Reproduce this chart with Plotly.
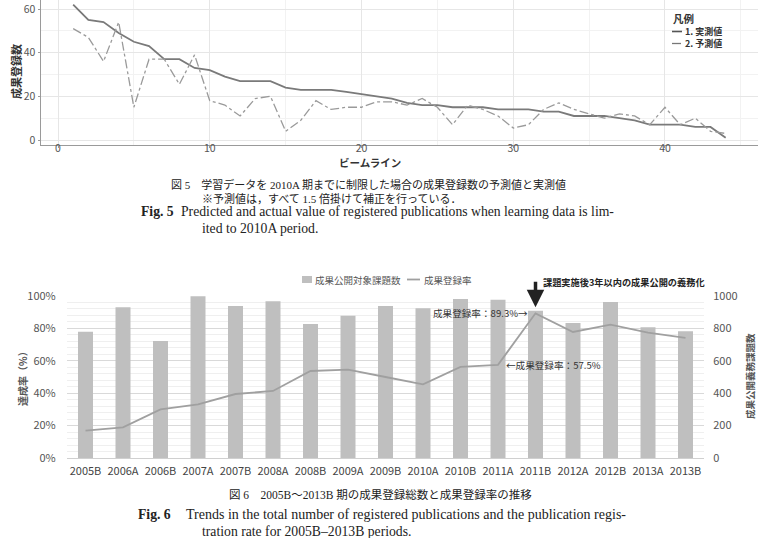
import plotly.graph_objects as go

# ---------------- data: Fig. 5 ----------------
beamline = list(range(1, 45))
actual = [62, 55, 54, 49, 45, 43, 37, 37, 33, 32, 29, 27, 27, 27, 24, 23, 23, 23, 22, 21,
          20, 19, 17, 16, 16, 15, 15, 15, 14, 14, 14, 13, 13, 11, 11, 11, 10, 9, 7, 7,
          7, 6, 6, 1]
predicted = [51, 47, 36, 54, 15, 37, 37, 25.5, 39, 18, 16, 11, 19, 20, 4, 9, 18, 14, 15, 15,
             17.5, 17.5, 16, 19, 15, 7, 16, 14, 11, 5.5, 7, 14, 17, 14, 12, 10, 12, 11, 7, 15,
             7, 10, 4, 3]
series_names = ["1. 実測値", "2. 予測値"]
x_ticks5 = [0, 10, 20, 30, 40]
y_ticks5 = [0, 20, 40, 60]

# ---------------- data: Fig. 6 ----------------
periods = ["2005B", "2006A", "2006B", "2007A", "2007B", "2008A", "2008B", "2009A", "2009B",
           "2010A", "2010B", "2011A", "2011B", "2012A", "2012B", "2013A", "2013B"]
target_counts = [780, 930, 722, 998, 938, 967, 827, 878, 938, 924, 981, 977, 909, 833, 963, 807, 782]
reg_rate = [16.9, 18.9, 30.0, 33.1, 39.5, 41.4, 53.7, 54.5, 50.0, 45.5, 56.2, 57.5, 89.3,
            77.8, 82.3, 77.4, 74.1]
rate_ticks = [0, 20, 40, 60, 80, 100]
count_ticks = [0, 200, 400, 600, 800, 1000]

W, H = 758, 538
def px(x): return x / W
def py(y): return 1 - y / H

SANS = "Noto Sans CJK JP, Noto Sans, sans-serif"
SERIF = "Liberation Serif, Noto Sans CJK JP, serif"

fig = go.Figure()

# Fig. 5 traces
fig.add_trace(go.Scatter(x=beamline, y=actual, mode="lines", name=series_names[0],
                         line=dict(color="#7a7a7a", width=1.8), xaxis="x", yaxis="y",
                         showlegend=False))
fig.add_trace(go.Scatter(x=beamline, y=predicted, mode="lines", name=series_names[1],
                         line=dict(color="#9a9a9a", width=1.3, dash="dashdot"), xaxis="x", yaxis="y",
                         showlegend=False))

# Fig. 6 traces
fig.add_trace(go.Bar(x=periods, y=target_counts, name="成果公開対象課題数",
                     marker=dict(color="#bfbfbf", line=dict(width=0)), xaxis="x2", yaxis="y2",
                     showlegend=False))
fig.add_trace(go.Scatter(x=periods, y=reg_rate, mode="lines", name="成果登録率",
                         line=dict(color="#a0a0a0", width=1.8), xaxis="x2", yaxis="y3",
                         showlegend=False))

axis_font = dict(family=SANS, size=10.5, color="#555555")

fig.update_layout(
    width=W, height=H, margin=dict(l=0, r=0, t=0, b=0, autoexpand=False),
    paper_bgcolor="white", plot_bgcolor="white",
    font=dict(family=SANS, color="#333333"),
    bargap=0.6,
    # ---- Fig. 5 axes ----
    xaxis=dict(domain=[px(40.5), 1.0], range=[-1.153, 46.13], anchor="y", automargin=False,
               tickvals=x_ticks5, showgrid=True, gridcolor="#e6e6e6", gridwidth=1,
               minor=dict(dtick=5, tick0=0, showgrid=True, gridcolor="#f2f2f2"),
               zeroline=False, showline=True, linecolor="#9a9a9a", linewidth=1,
               ticks="outside", ticklen=2, tickcolor="#9a9a9a",
               tickfont=axis_font, ticklabelstandoff=-8, ticklabeloverflow="allow"),
    yaxis=dict(domain=[py(144.5), 1.0], range=[-2.06, 64.12], anchor="x", automargin=False,
               tickvals=y_ticks5, showgrid=True, gridcolor="#e6e6e6",
               minor=dict(dtick=10, tick0=0, showgrid=True, gridcolor="#f2f2f2"),
               zeroline=False, showline=True, linecolor="#9a9a9a", linewidth=1,
               ticks="outside", ticklen=2, tickcolor="#9a9a9a",
               tickfont=axis_font, ticklabeloverflow="allow"),
    # ---- Fig. 6 axes ----
    xaxis2=dict(domain=[px(66.75), px(704.25)], anchor="y2", type="category", automargin=False,
                showgrid=False, showline=True, linecolor="#d0d0d0", ticks="",
                tickfont=dict(family=SANS, size=11, color="#444444"),
                ticklabelstandoff=3, ticklabeloverflow="allow"),
    yaxis2=dict(domain=[py(458), py(296)], range=[0, 1000], anchor="x2", side="right",
                automargin=False,
                tickvals=count_ticks, ticktext=[str(v) for v in count_ticks],
                showgrid=True, gridcolor="#d9d9d9",
                minor=dict(dtick=40, tick0=0, showgrid=True, gridcolor="#efefef"),
                zeroline=False, showline=False, ticks="",
                tickfont=dict(family=SANS, size=11, color="#555555"), ticklabelstandoff=8,
                ticklabeloverflow="allow"),
    yaxis3=dict(overlaying="y2", range=[0, 100], anchor="x2", side="left", automargin=False,
                tickvals=rate_ticks, ticktext=[f"{v}%" for v in rate_ticks], showgrid=False,
                zeroline=False, showline=False, ticks="",
                tickfont=dict(family=SANS, size=11, color="#555555"), ticklabelstandoff=10,
                ticklabeloverflow="allow"),
)

ann = []
shapes = []

# Fig. 5 axis titles
ann.append(dict(x=px(370), y=py(163), xref="paper", yref="paper", xanchor="center", yanchor="middle",
                text="<b>ビームライン</b>", showarrow=False,
                font=dict(family=SANS, size=10.5, color="#333333")))
ann.append(dict(x=px(16), y=py(72), xref="paper", yref="paper", xanchor="center", yanchor="middle",
                text="<b>成果登録数</b>", textangle=-90, showarrow=False,
                font=dict(family=SANS, size=11, color="#333333")))

# Fig. 5 legend
ann.append(dict(x=px(671), y=py(18), xref="paper", yref="paper", xanchor="left", yanchor="middle",
                text="<b>凡例</b>", showarrow=False, font=dict(family=SANS, size=10.5, color="#333333")))
shapes.append(dict(type="line", xref="paper", yref="paper", x0=px(672), x1=px(682), y0=py(31.5), y1=py(31.5),
                   line=dict(color="#555555", width=1.6)))
shapes.append(dict(type="line", xref="paper", yref="paper", x0=px(672), x1=px(682), y0=py(43.5), y1=py(43.5),
                   line=dict(color="#777777", width=1.3, dash="dash")))
ann.append(dict(x=px(684), y=py(31.5), xref="paper", yref="paper", xanchor="left", yanchor="middle",
                text="<b>" + series_names[0] + "</b>", showarrow=False, borderpad=0,
                font=dict(family=SANS, size=9, color="#333333")))
ann.append(dict(x=px(684), y=py(43.5), xref="paper", yref="paper", xanchor="left", yanchor="middle",
                text="<b>" + series_names[1] + "</b>", showarrow=False, borderpad=0,
                font=dict(family=SANS, size=9, color="#333333")))

# Fig. 5 captions
cap_font = dict(family=SERIF, size=11, color="#222222")
body_font = dict(family=SERIF, size=13.7, color="#222222")
ann.append(dict(x=px(169), y=py(184), xref="paper", yref="paper", xanchor="left", yanchor="middle",
                text="図 5　学習データを 2010A 期までに制限した場合の成果登録数の予測値と実測値",
                showarrow=False, font=cap_font))
ann.append(dict(x=px(200), y=py(198.5), xref="paper", yref="paper", xanchor="left", yanchor="middle",
                text="※予測値は，すべて 1.5 倍掛けて補正を行っている．",
                showarrow=False, font=cap_font))
ann.append(dict(x=px(139), y=py(212), xref="paper", yref="paper", xanchor="left", yanchor="middle",
                text="<b>Fig. 5</b>", showarrow=False, font=body_font))
ann.append(dict(x=px(179), y=py(212), xref="paper", yref="paper", xanchor="left", yanchor="middle",
                text="Predicted and actual value of registered publications when learning data is lim-",
                showarrow=False, font=body_font))
ann.append(dict(x=px(200), y=py(228), xref="paper", yref="paper", xanchor="left", yanchor="middle",
                text="ited to 2010A period.", showarrow=False, font=body_font))

# Fig. 6 legend
shapes.append(dict(type="rect", xref="paper", yref="paper", x0=px(302), x1=px(312), y0=py(283), y1=py(276),
                   fillcolor="#bfbfbf", line=dict(width=0)))
ann.append(dict(x=px(313), y=py(279.5), xref="paper", yref="paper", xanchor="left", yanchor="middle",
                text="成果公開対象課題数", showarrow=False, font=dict(family=SANS, size=9.5, color="#555555")))
shapes.append(dict(type="line", xref="paper", yref="paper", x0=px(407), x1=px(420), y0=py(279.5), y1=py(279.5),
                   line=dict(color="#a0a0a0", width=1.8)))
ann.append(dict(x=px(422), y=py(279.5), xref="paper", yref="paper", xanchor="left", yanchor="middle",
                text="成果登録率", showarrow=False, font=dict(family=SANS, size=9.5, color="#555555")))

# Fig. 6 annotations
ann.append(dict(x="2011B", y=89.3, xref="x2", yref="y3", xanchor="right", yanchor="middle",
                xshift=-6, text="成果登録率：89.3%→", showarrow=False,
                font=dict(family=SANS, size=9.6, color="#333333")))
ann.append(dict(x="2011A", y=57.5, xref="x2", yref="y3", xanchor="left", yanchor="middle",
                xshift=6, text="←成果登録率：57.5%", showarrow=False,
                font=dict(family=SANS, size=9.6, color="#333333")))
ann.append(dict(x="2011B", y=93.0, xref="x2", yref="y3", ax=0, ay=-27, axref="pixel", ayref="pixel",
                showarrow=True, arrowhead=2, arrowsize=1, arrowwidth=3.5, arrowcolor="#222222", text=""))
ann.append(dict(x=px(541), y=py(281.5), xref="paper", yref="paper", xanchor="left", yanchor="middle",
                text="<b>課題実施後3年以内の成果公開の義務化</b>", showarrow=False,
                font=dict(family=SANS, size=9.2, color="#222222")))

# axis titles Fig. 6
ann.append(dict(x=px(22), y=py(376), xref="paper", yref="paper", xanchor="center", yanchor="middle",
                text="<b>達成率（%）</b>", textangle=-90, showarrow=False,
                font=dict(family=SANS, size=10, color="#555555")))
ann.append(dict(x=px(750), y=py(376), xref="paper", yref="paper", xanchor="center", yanchor="middle",
                text="<b>成果公開義務課題数</b>", textangle=-90, showarrow=False,
                font=dict(family=SANS, size=9.5, color="#555555")))

# Fig. 6 captions
ann.append(dict(x=px(380), y=py(494), xref="paper", yref="paper", xanchor="center", yanchor="middle",
                text="図 6　2005B～2013B 期の成果登録総数と成果登録率の推移",
                showarrow=False, font=dict(family=SERIF, size=11.5, color="#222222")))
ann.append(dict(x=px(136), y=py(514), xref="paper", yref="paper", xanchor="left", yanchor="middle",
                text="<b>Fig. 6</b>", showarrow=False, font=body_font))
ann.append(dict(x=px(184), y=py(514), xref="paper", yref="paper", xanchor="left", yanchor="middle",
                text="Trends in the total number of registered publications and the publication regis-",
                showarrow=False, font=dict(family=SERIF, size=14, color="#222222")))
ann.append(dict(x=px(200), y=py(531), xref="paper", yref="paper", xanchor="left", yanchor="middle",
                text="tration rate for 2005B–2013B periods.", showarrow=False, font=body_font))

fig.update_layout(annotations=ann, shapes=shapes)
fig.write_html("out.html")
